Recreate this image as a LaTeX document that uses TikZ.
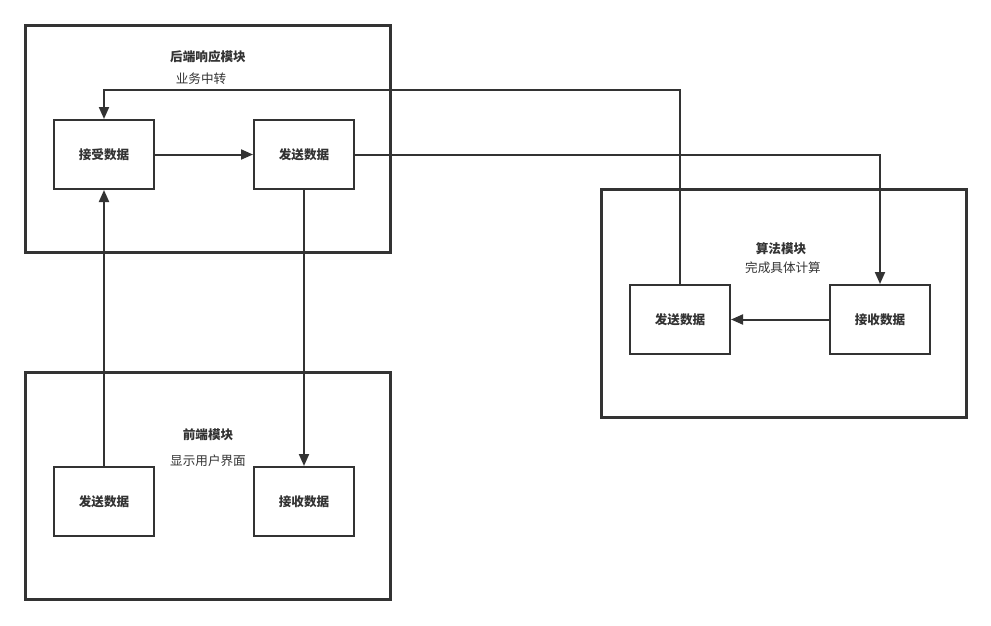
\documentclass[tikz,border=0pt]{standalone}
\usepackage{fontspec}
\setmainfont{Noto Sans CJK SC}
\usetikzlibrary{arrows.meta}
\definecolor{ink}{HTML}{333333}
\begin{document}
\begin{tikzpicture}[x=1pt,y=-1pt,
  container/.style={draw=ink,line width=3pt,fill=white},
  box/.style={draw=ink,line width=2pt,minimum width=100pt,minimum height=69pt,inner sep=0pt,font=\fontsize{12.6}{14}\selectfont\bfseries,text=ink},
  ttl/.style={font=\fontsize{12.6}{14}\selectfont\bfseries,text=ink,inner sep=0pt},
  sub/.style={font=\fontsize{12.6}{14}\selectfont,text=ink,inner sep=0pt},
  conn/.style={draw=ink,line width=2pt,-{Triangle[length=12pt,width=10pt]}}]
\useasboundingbox (0,0) rectangle (991,625);
\fill[white] (0,0) rectangle (991,625);
% containers
\draw[container] (25,25) rectangle (390,252);
\draw[container] (601,189) rectangle (966,417);
\draw[container] (25,372) rectangle (390,599);
% titles
\node[ttl] (t1) at (208,57) {后端响应模块};
\node[sub] (s1) at (201,79) {业务中转};
\node[ttl] (t2) at (781,249) {算法模块};
\node[sub] (s2) at (783,268) {完成具体计算};
\node[ttl] (t3) at (208,435) {前端模块};
\node[sub] (s3) at (208,461) {显示用户界面};
% boxes
\node[box] (brecv) at (104,154.5) {接受数据};
\node[box] (bsend) at (304,154.5) {发送数据};
\node[box] (asend) at (680,319.5) {发送数据};
\node[box] (arecv) at (880,319.5) {接收数据};
\node[box] (fsend) at (104,501.5) {发送数据};
\node[box] (frecv) at (304,501.5) {接收数据};
% connectors
\draw[conn] (brecv) -- (bsend);
\draw[conn] (arecv) -- (asend);
\draw[conn] (asend.north) |- (392,90) -| (brecv.north);
\draw[conn] (bsend.east) -| (arecv.north);
\draw[conn] (bsend.south) -- (frecv.north);
\draw[conn] (fsend.north) -- (brecv.south);
\end{tikzpicture}
\end{document}
